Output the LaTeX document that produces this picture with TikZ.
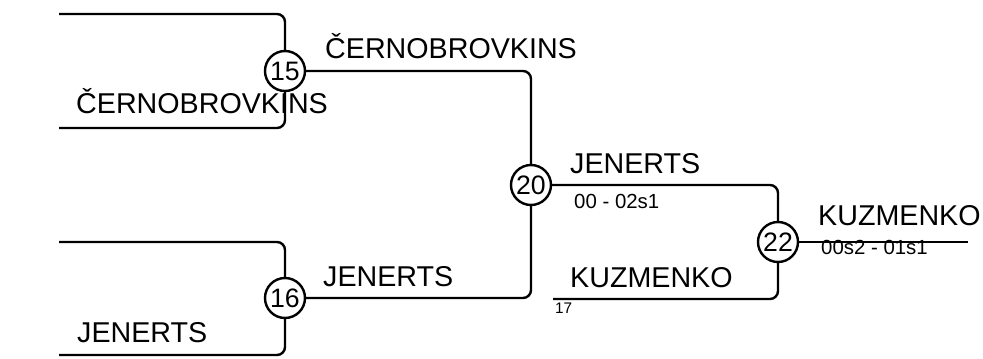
\documentclass[tikz,border=0pt]{standalone}
\usepackage{fontspec}
\setmainfont{Liberation Sans}
\begin{document}
\begin{tikzpicture}[x=0.75pt,y=-0.75pt,
  line width=1.8pt,
  seedbox/.style={circle,draw,line width=1.8pt,inner sep=0pt,minimum size=30pt,font=\fontsize{20}{20}\selectfont},
  plabel/.style={anchor=base west,inner sep=0pt,font=\fontsize{21.5}{21.5}\selectfont},
  slabel/.style={anchor=base west,inner sep=0pt,font=\fontsize{15.3}{15.3}\selectfont},
  tlabel/.style={anchor=base west,inner sep=0pt,font=\fontsize{11.5}{11.5}\selectfont},
  wire/.style={rounded corners=6pt}]
\useasboundingbox (0,0) rectangle (983,358);
% seeds
\node[seedbox] (c15) at (285,71) {15};
\node[seedbox] (c16) at (285,298) {16};
\node[seedbox] (c20) at (531,185) {20};
\node[seedbox] (c22) at (778,242) {22};
% free ends
\coordinate (a1) at (59,14);
\coordinate (a2) at (59,128);
\coordinate (b1) at (59,242);
\coordinate (b2) at (59,355);
\coordinate (k17) at (553,299);
\coordinate (fin) at (968,242);
% wires
\draw[wire] (a1) -| (c15.north);
\draw[wire] (a2) -| (c15.south);
\draw[wire] (b1) -| (c16.north);
\draw[wire] (b2) -| (c16.south);
\draw[wire] (c15.east) -| (c20.north);
\draw[wire] (c16.east) -| (c20.south);
\draw[wire] (c20.east) -| (c22.north);
\draw[wire] (k17) -| (c22.south);
\draw (c22.east) -- (fin);
% labels
\node[plabel] (n1) at (75,113) {ČERNOBROVKINS};
\node[plabel] (n2) at (76,342) {JENERTS};
\node[plabel] (n3) at (324,58) {ČERNOBROVKINS};
\node[plabel] (n4) at (322,286) {JENERTS};
\node[plabel] (n5) at (569,173) {JENERTS};
\node[slabel] (s5) at (573,208) {00 - 02s1};
\node[plabel] (n6) at (569,287) {KUZMENKO};
\node[tlabel] (t17) at (554,313) {17};
\node[plabel] (n7) at (817,225) {KUZMENKO};
\node[slabel] (s7) at (820,254) {00s2 - 01s1};
\end{tikzpicture}
\end{document}
